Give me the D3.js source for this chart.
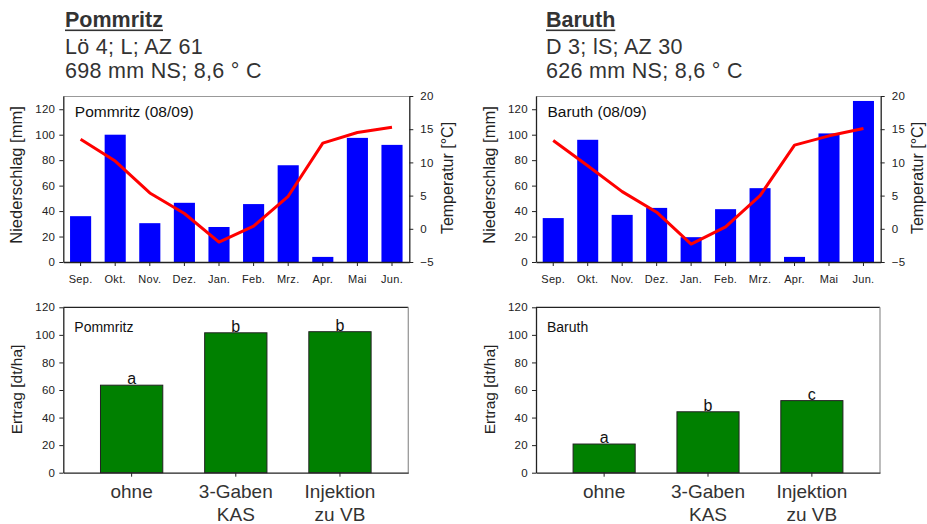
<!DOCTYPE html>
<html><head><meta charset="utf-8">
<script src="https://cdn.jsdelivr.net/npm/d3@7"></script>
<style>body{margin:0;background:#fff}svg{display:block;font-family:"Liberation Sans",Arial,sans-serif}</style>
</head><body><svg id="c" width="927" height="524"></svg>
<script>
const months = ["Sep.","Okt.","Nov.","Dez.","Jan.","Feb.","Mrz.","Apr.","Mai","Jun."];
const precipPommritz = [36, 100, 30.5, 46.5, 27.5, 45.5, 76, 4, 97.5, 92];
const tempPommritz = [13.5, 10.2, 5.4, 2.3, -2.0, 0.4, 4.9, 12.9, 14.5, 15.3];
const precipBaruth = [34.5, 96, 37, 42.5, 19.5, 41.5, 58, 4, 101, 126.5];
const tempBaruth = [13.3, 9.5, 5.6, 2.5, -2.3, 0.3, 5.0, 12.6, 14.0, 15.1];
const treatments = ["ohne", "3-Gaben|KAS", "Injektion|zu VB"];
const yieldPommritz = [63.5, 101.5, 102.3];
const yieldBaruth = [20.8, 44.2, 52.3];
const lettersPommritz = ["a", "b", "b"];
const lettersBaruth = ["a", "b", "c"];
const precipTicks = [0, 20, 40, 60, 80, 100, 120];
const tempTicks = [-5, 0, 5, 10, 15, 20];
const yieldTicks = [0, 20, 40, 60, 80, 100, 120];

const svg = d3.select("#c");
const AX = "#222", FR = "#999";

function header(x, name, l1, l2) {
  const g = svg.append("g").attr("fill", "#333").attr("font-size", 21.5);
  const t = g.append("text").attr("x", x).attr("y", 27).attr("font-weight", "bold").attr("font-size", 21.5).text(name);
  const w = t.node().getComputedTextLength();
  g.append("rect").attr("x", x).attr("y", 29.5).attr("width", w).attr("height", 1.6).attr("fill", "#333");
  g.append("text").attr("x", x).attr("y", 54).attr("letter-spacing", 0.3).text(l1);
  g.append("text").attr("x", x).attr("y", 78).attr("letter-spacing", 0.3).text(l2);
}

function styleAxis(a, fs) {
  a.select(".domain").attr("stroke", AX).attr("stroke-width", 1.3);
  a.selectAll(".tick line").attr("stroke", AX);
  a.selectAll(".tick text").attr("fill", "#222").attr("font-size", fs).attr("letter-spacing", 0.3)
    .attr("font-family", "Liberation Sans, Arial, sans-serif");
}

function climate(x0, x1, precip, temp, label, leftTitleX, rightTitleX) {
  const y0 = 262, yTop = 96;
  const x = d3.scaleBand().domain(months).range([x0, x1]).paddingInner(0.39).paddingOuter(0.195);
  const y = d3.scaleLinear().domain([0, 130.4]).range([y0, yTop]);
  const yt = d3.scaleLinear().domain([-5, 20]).range([y0, yTop]);
  const g = svg.append("g");
  g.selectAll("rect.bar").data(months).join("rect").attr("class", "bar")
    .attr("x", d => x(d)).attr("width", x.bandwidth())
    .attr("y", (d, i) => y(precip[i])).attr("height", (d, i) => y0 - y(precip[i]))
    .attr("fill", "#0000ff");
  const line = d3.line().x((d, i) => x(months[i]) + x.bandwidth() / 2).y(d => yt(d));
  g.append("path").datum(temp).attr("d", line).attr("fill", "none").attr("stroke", "#ff0000").attr("stroke-width", 3).attr("stroke-linejoin", "round");
  g.append("line").attr("x1", x0).attr("x2", x1).attr("y1", yTop + 0.5).attr("y2", yTop + 0.5).attr("stroke", FR);
  const ax = g.append("g").attr("transform", `translate(0,${y0})`).call(d3.axisBottom(x).tickSize(4).tickPadding(9).tickSizeOuter(0));
  const ay = g.append("g").attr("transform", `translate(${x0},0)`).call(d3.axisLeft(y).tickValues(precipTicks).tickSize(4).tickPadding(4).tickSizeOuter(0));
  const ar = g.append("g").attr("transform", `translate(${x1},0)`).call(d3.axisRight(yt).tickValues(tempTicks).tickSize(4).tickPadding(7).tickSizeOuter(0));
  styleAxis(ax, 11); styleAxis(ay, 11.5); styleAxis(ar, 11.5);
  g.append("text").attr("x", x0 + 11.5).attr("y", 117.3).attr("font-size", 15.5).attr("fill", "#111").text(label);
  g.append("text").attr("transform", `translate(${leftTitleX},175) rotate(-90)`).attr("text-anchor", "middle").attr("font-size", 16.5).attr("fill", "#222").text("Niederschlag [mm]");
  g.append("text").attr("transform", `translate(${rightTitleX},178) rotate(-90)`).attr("text-anchor", "middle").attr("font-size", 16).attr("fill", "#222").text("Temperatur [°C]");
}

function yieldChart(x0, x1, vals, letters, label, titleX) {
  const y0 = 472.7, yTop = 307.3;
  const x = d3.scaleBand().domain(treatments).range([x0, x1]).paddingInner(0.402).paddingOuter(0.357);
  const y = d3.scaleLinear().domain([0, 120]).range([y0, yTop]);
  const g = svg.append("g");
  g.append("line").attr("x1", x0).attr("x2", x1).attr("y1", yTop).attr("y2", yTop).attr("stroke", AX).attr("stroke-width", 1.3);
  g.append("line").attr("x1", x1).attr("x2", x1).attr("y1", yTop).attr("y2", y0).attr("stroke", FR).attr("stroke-width", 1.3);
  g.selectAll("rect.bar").data(treatments).join("rect").attr("class", "bar")
    .attr("x", d => x(d)).attr("width", x.bandwidth())
    .attr("y", (d, i) => y(vals[i])).attr("height", (d, i) => y0 - y(vals[i]))
    .attr("fill", "#008000").attr("stroke", "#222").attr("stroke-width", 1);
  g.selectAll("text.let").data(treatments).join("text").attr("class", "let")
    .attr("x", d => x(d) + x.bandwidth() / 2).attr("y", (d, i) => y(vals[i]) - 1)
    .attr("text-anchor", "middle").attr("font-size", 16).attr("fill", "#111").text((d, i) => letters[i]);
  const ax = g.append("g").attr("transform", `translate(0,${y0})`).call(d3.axisBottom(x).tickSize(4).tickSizeOuter(0).tickFormat(""));
  const ay = g.append("g").attr("transform", `translate(${x0},0)`).call(d3.axisLeft(y).tickValues(yieldTicks).tickSize(4).tickPadding(4).tickSizeOuter(0));
  styleAxis(ax, 11.5); styleAxis(ay, 11.5);
  treatments.forEach(t => {
    t.split("|").forEach((l, j) => {
      g.append("text").attr("x", x(t) + x.bandwidth() / 2).attr("y", 498 + j * 22.5)
        .attr("text-anchor", "middle").attr("font-size", 19).attr("fill", "#333").text(l);
    });
  });
  g.append("text").attr("x", x0 + 11).attr("y", 331.7).attr("font-size", 14).attr("fill", "#111").text(label);
  g.append("text").attr("transform", `translate(${titleX},389.5) rotate(-90)`).attr("text-anchor", "middle").attr("font-size", 15.5).attr("fill", "#222").text("Ertrag [dt/ha]");
}

header(65, "Pommritz", "Lö 4; L; AZ 61", "698 mm NS; 8,6 ° C");
header(546, "Baruth", "D 3; lS; AZ 30", "626 mm NS; 8,6 ° C");
climate(63.3, 409.3, precipPommritz, tempPommritz, "Pommritz (08/09)", 22, 453);
climate(536, 880.7, precipBaruth, tempBaruth, "Baruth (08/09)", 495, 923);
yieldChart(63.3, 408.3, yieldPommritz, lettersPommritz, "Pommritz", 22);
yieldChart(536, 880, yieldBaruth, lettersBaruth, "Baruth", 495);
</script></body></html>
